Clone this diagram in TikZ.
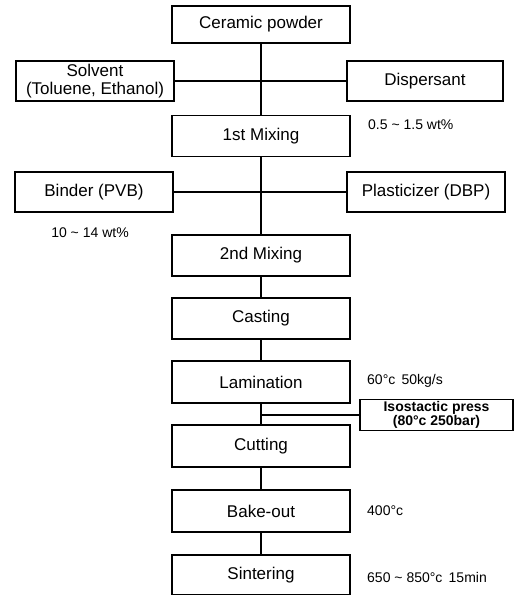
\documentclass[tikz,border=0pt]{standalone}
\usepackage{fontspec}
\setmainfont{Liberation Sans}
\begin{document}
\begin{tikzpicture}[x=1pt,y=-1pt,
 box/.style={draw, line width=1.3pt, minimum width=178pt, minimum height=41pt, inner sep=0pt, font=\fontsize{17}{18}\selectfont, align=center},
 side/.style={box, minimum width=158pt, minimum height=40pt},
 lbl/.style={font=\fontsize{14}{15}\selectfont, anchor=west, inner sep=0pt},
 conn/.style={line width=1.3pt}]
\useasboundingbox (0,0) rectangle (523,595);
\node[box, minimum height=37pt] (cp) at (261,24.5) {Ceramic powder};
\node[side] (solv) at (95,81) {Solvent\\(Toluene, Ethanol)};
\node[side, minimum width=156pt] (disp) at (425,81) {Dispersant};
\node[box] (m1) at (261,136) {1st Mixing};
\node[side] (bind) at (94,192) {Binder (PVB)};
\node[side] (plas) at (426,192) {Plasticizer (DBP)};
\node[box] (m2) at (261,255.5) {2nd Mixing};
\node[box] (cast) at (261,318.5) {Casting};
\node[box, minimum height=42pt] (lam) at (261,382) {Lamination};
\node[box, minimum width=153pt, minimum height=31pt, font=\fontsize{14}{14}\selectfont\bfseries] (iso) at (436.5,415) {Isostactic press\\(80°c 250bar)};
\node[box, minimum height=42pt] (cut) at (261,446) {Cutting};
\node[box, minimum height=42pt] (bake) at (261,511) {Bake-out};
\node[box, minimum height=40pt] (sint) at (261,575) {Sintering};
\node[lbl] (l1) at (368,125) {0.5 \textasciitilde{} 1.5 wt\%};
\node[lbl, anchor=center] (l2) at (90,233) {10 \textasciitilde{} 14 wt\%};
\node[lbl] (l3) at (367,381) {60°c\, 50kg/s};
\node[lbl] (l4) at (367,511) {400°c};
\node[lbl] (l5) at (367,577) {650 \textasciitilde{} 850°c\, 15min};
\draw[conn] (cp) -- (m1) -- (m2) -- (cast) -- (lam) -- (cut) -- (bake) -- (sint);
\draw[conn] (solv) -- (disp);
\draw[conn] (bind) -- (plas);
\draw[conn] (lam.south |- iso.west) -- (iso.west);
\end{tikzpicture}
\end{document}
